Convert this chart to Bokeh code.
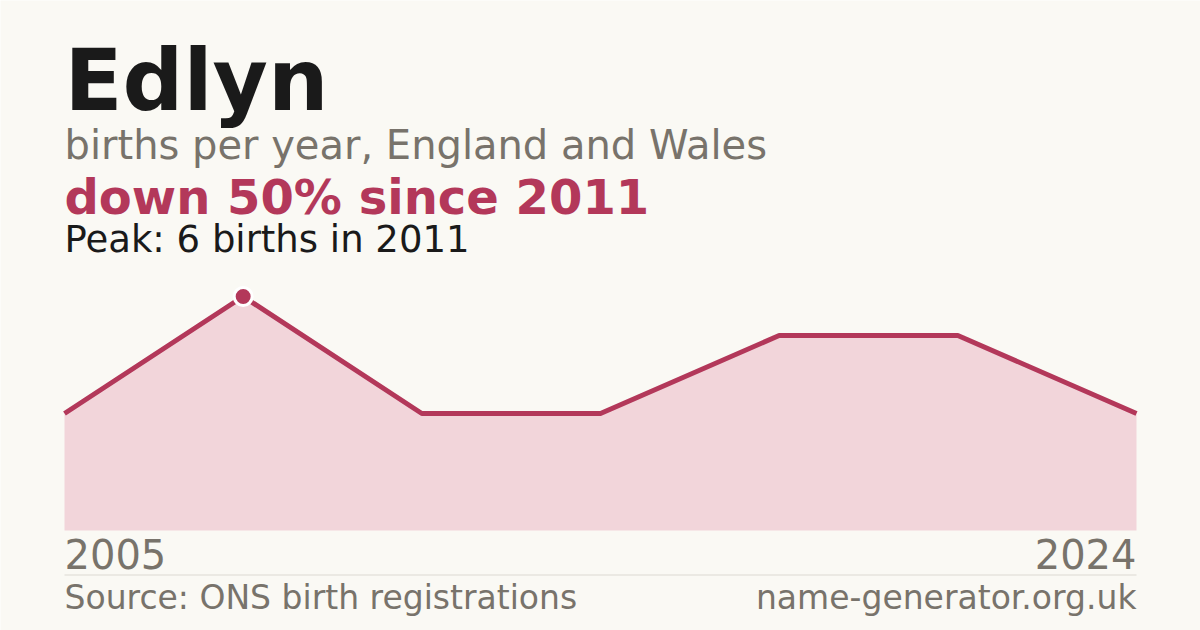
from bokeh.plotting import figure
from bokeh.models import Label, Range1d, BoxAnnotation
from bokeh.embed import file_html
from bokeh.resources import INLINE

# Data
years = [2005, 2011, 2014, 2016, 2019, 2021, 2024]
births = [3, 6, 3, 3, 5, 5, 3]
idx = list(range(len(years)))
peak_i = births.index(max(births))

title_text = "Edlyn"
subtitle_text = "births per year, England and Wales"
change_text = "down 50% since 2011"
peak_text = "Peak: 6 births in 2011"
source_text = "Source: ONS birth registrations"
site_text = "name-generator.org.uk"

BG = "#faf9f4"
RED = "#b3385a"
FILL = "#f2d5da"
GREY = "#78736b"
DARK = "#1a1a1a"
FONT = "DejaVu Sans"

W, H = 1200, 630
LEFT, RIGHT = 64, 1136       # chart left/right edges (px)
BASE = 530                   # baseline y (px from top)
PX_PER_BIRTH = 39.0

px_per_idx = (RIGHT - LEFT) / (len(years) - 1)

p = figure(width=W, height=H, output_backend="svg", toolbar_location=None,
           min_border=0, background_fill_color=BG, border_fill_color=BG,
           outline_line_color=None)
p.x_range = Range1d(-LEFT / px_per_idx, (len(years) - 1) + (W - RIGHT) / px_per_idx)
p.y_range = Range1d(-(H - BASE) / PX_PER_BIRTH, BASE / PX_PER_BIRTH)
p.axis.visible = False
p.grid.visible = False

p.varea(x=idx, y1=[0] * len(idx), y2=births, fill_color=FILL)
p.line(x=idx, y=births, line_color=RED, line_width=5)
p.scatter(x=[idx[peak_i]], y=[births[peak_i]], size=18, fill_color=RED,
          line_color="white", line_width=3)

# separator rule between year labels and footer
p.add_layout(BoxAnnotation(left=idx[0], right=idx[-1], left_units="data", right_units="data",
                           bottom=H - 575, top=H - 574, bottom_units="screen", top_units="screen",
                           fill_color="#dcd9d2", fill_alpha=1, line_color=None))

def lab(text, x, baseline, size, color, bold=False, align="left"):
    y_top = baseline - 0.38 * size
    p.add_layout(Label(x=x, y=H - y_top, x_units="screen", y_units="screen", text=text,
                       text_font=FONT, text_font_size=f"{size}px",
                       text_font_style="bold" if bold else "normal",
                       text_color=color, text_align=align, text_baseline="alphabetic"))

lab(title_text, LEFT, 112, 85, DARK, bold=True)
lab(subtitle_text, LEFT, 160, 40, GREY)
lab(change_text, LEFT, 215, 48, RED, bold=True)
lab(peak_text, LEFT, 253, 37, DARK)
lab(str(years[0]), LEFT, 569, 40, GREY)
lab(str(years[-1]), RIGHT, 569, 40, GREY, align="right")
lab(source_text, LEFT, 610, 33, GREY)
lab(site_text, RIGHT, 610, 33, GREY, align="right")

open("out.html", "w").write(file_html(p, INLINE))
